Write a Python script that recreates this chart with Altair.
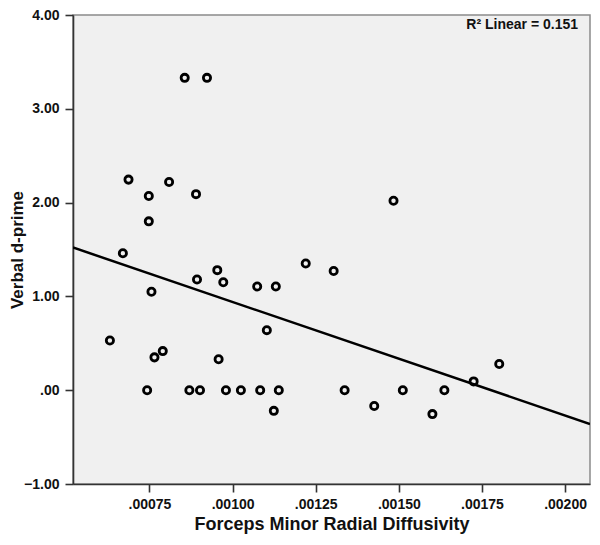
import altair as alt
import pandas as pd

# Forceps minor radial diffusivity (x) and verbal d-prime (y)
rd = [0.000856, 0.000923, 0.000687, 0.000748, 0.000809, 0.000890, 0.000748, 0.000670,
      0.000954, 0.000893, 0.000972, 0.001074, 0.001130, 0.000756, 0.000631, 0.000765,
      0.000790, 0.000958, 0.001103,
      0.000743, 0.000870, 0.000902, 0.000980, 0.001025, 0.001083, 0.001139,
      0.001124, 0.001484, 0.001220, 0.001304, 0.001337, 0.001426, 0.001512,
      0.001637, 0.001601, 0.001725, 0.001802]
dprime = [3.33, 3.33, 2.245, 2.07, 2.22, 2.09, 1.80, 1.46,
          1.28, 1.18, 1.15, 1.105, 1.105, 1.05, 0.53, 0.35,
          0.417, 0.33, 0.64,
          0.0, 0.0, 0.0, 0.0, 0.0, 0.0, 0.0,
          -0.22, 2.02, 1.35, 1.27, 0.0, -0.168, 0.0,
          0.0, -0.255, 0.094, 0.28]

x_domain = [0.00052, 0.002075]
y_domain = [-1.0, 4.0]
x_ticks = [0.00075, 0.00100, 0.00125, 0.00150, 0.00175, 0.00200]
y_ticks = [-1.0, 0.0, 1.0, 2.0, 3.0, 4.0]
r2_label = ["R\u00b2 Linear = 0.151"]

df = pd.DataFrame({"rd": rd, "dprime": dprime})

FONT = "Liberation Sans"

xs = alt.Scale(domain=x_domain, nice=False, zero=False)
ys = alt.Scale(domain=y_domain, nice=False, zero=False)

x_axis = alt.Axis(
    title="Forceps Minor Radial Diffusivity",
    values=x_ticks,
    labelExpr="substring(format(datum.value, '.5f'), 1)",
    grid=False,
    titleFontSize=18,
)
y_axis = alt.Axis(
    title="Verbal d-prime",
    values=y_ticks,
    labelExpr="datum.value == 0 ? '.00' : format(datum.value, '.2f')",
    grid=False,
    titleFontSize=17,
)

points = alt.Chart(df).mark_point(
    shape="circle", filled=False, color="black", size=52, strokeWidth=2.8, opacity=1
).encode(
    x=alt.X("rd:Q", scale=xs, axis=x_axis),
    y=alt.Y("dprime:Q", scale=ys, axis=y_axis),
)

line = alt.Chart(df).transform_regression(
    "rd", "dprime", extent=x_domain
).mark_line(color="black", strokeWidth=2.5, clip=True).encode(
    x=alt.X("rd:Q", scale=xs),
    y=alt.Y("dprime:Q", scale=ys),
)

label = alt.Chart(pd.DataFrame({"t": r2_label})).mark_text(
    align="right", baseline="middle", font=FONT, fontSize=14, fontWeight="bold", color="#111"
).encode(
    text="t:N",
    x=alt.value(505),
    y=alt.value(10),
)

chart = alt.layer(line, points, label).properties(
    width=517,
    height=469,
    padding={"left": 65, "top": 7, "right": 2, "bottom": 53},
    autosize=alt.AutoSizeParams(type="none"),
    background="white",
).configure_view(
    fill="#F0F0F0", stroke="#8A8A8A", strokeWidth=1.5
).configure_axis(
    labelFont=FONT, labelFontSize=14, labelFontWeight="bold", labelColor="#111",
    titleFont=FONT, titleFontWeight="bold", titleColor="#111",
    domainColor="#333", domainWidth=1.6, tickColor="#333", tickWidth=1.6, tickSize=8,
).configure_axisX(
    labelPadding=5, titlePadding=4
).configure_axisY(
    labelPadding=6, titlePadding=-3
)

chart.save("out.html", embed_options={"renderer": "svg", "actions": False})
